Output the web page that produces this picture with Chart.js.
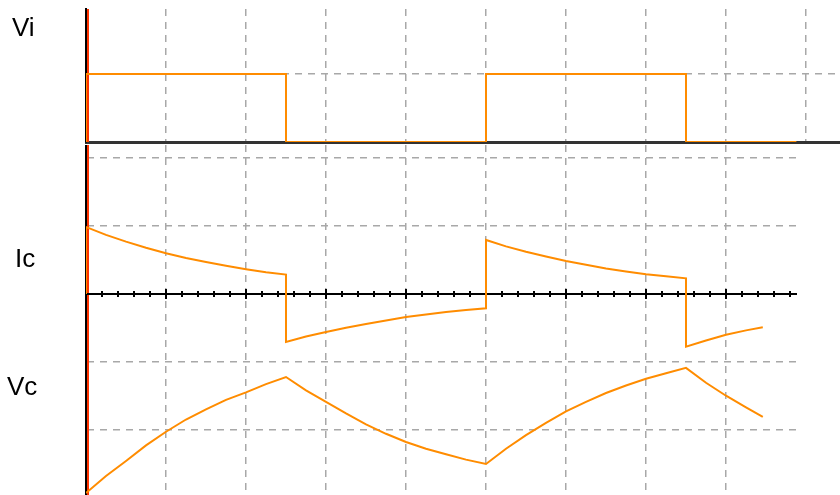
<!DOCTYPE html>
<html lang="en">
<head>
<meta charset="UTF-8">
<title>Vi / Ic / Vc</title>
<script src="https://cdn.jsdelivr.net/npm/chart.js"></script>
<style>
  body { margin: 0; background: #fff; font-family: 'Liberation Sans', Arial, sans-serif; }
  .wrap { position: relative; width: 840px; height: 495px; overflow: hidden; }
  .wrap canvas { position: absolute; left: 0; }
  #viChart { top: 0; }
  #icChart { top: 145px; }
  .lbl { position: absolute; font-size: 26px; line-height: 26px; color: #000; }
</style>
</head>
<body>
<div class="wrap">
  <canvas id="viChart" width="840" height="145"></canvas>
  <canvas id="icChart" width="840" height="350"></canvas>
  <div class="lbl" style="left:12px; top:14px">Vi</div>
  <div class="lbl" style="left:15px; top:245px">Ic</div>
  <div class="lbl" style="left:7px; top:373px">Vc</div>
</div>

<script>
// time in minor divisions (5 per major grid division)
const viTime  = [0, 0, 12.5, 12.5, 25, 25, 37.5, 37.5, 44.4];
const viLevel = [0, 1, 1, 0, 0, 1, 1, 0, 0];

const icTime = [
    0, 0, 1.25, 2.5, 3.75, 5, 6.25, 7.5, 8.75, 10, 11.25, 12.5,
    12.5, 13.75, 15, 16.25, 17.5, 18.75, 20, 21.25, 22.5, 23.75, 25,
    25, 26.25, 27.5, 28.75, 30, 31.25, 32.5, 33.75, 35, 36.25, 37.5,
    37.5, 38.75, 40, 41.25, 42.3
];
const icValue = [
    0, 0.985, 0.87, 0.77, 0.68, 0.6, 0.53, 0.47, 0.415, 0.365, 0.32, 0.285,
    -0.705, -0.625, -0.56, -0.495, -0.44, -0.39, -0.34, -0.3, -0.265, -0.235, -0.21,
    0.795, 0.7, 0.62, 0.55, 0.485, 0.43, 0.375, 0.33, 0.29, 0.26, 0.23,
    -0.775, -0.685, -0.6, -0.535, -0.49
];

const vcTime = [
    0, 1.25, 2.5, 3.75, 5, 6.25, 7.5, 8.75, 10, 11.25, 12.5,
    13.75, 15, 16.25, 17.5, 18.75, 20, 21.25, 22.5, 23.75, 25,
    26.25, 27.5, 28.75, 30, 31.25, 32.5, 33.75, 35, 36.25, 37.5,
    38.75, 40, 41.25, 42.3
];
const vcValue = [
    0.03, 0.28, 0.5, 0.73, 0.93, 1.11, 1.26, 1.4, 1.51, 1.63, 1.735,
    1.54, 1.37, 1.2, 1.04, 0.9, 0.78, 0.68, 0.6, 0.52, 0.456,
    0.68, 0.88, 1.06, 1.23, 1.37, 1.5, 1.61, 1.71, 1.79, 1.87,
    1.65, 1.46, 1.29, 1.15
];

const TRACE = '#ff8c00';
const GRID = '#a8a8a8';
const DASH = [7, 6];

function pts(xs, ys) {
    return xs.map((x, i) => ({ x: x, y: ys[i] }));
}

function trace(data, axis) {
    return {
        data: data,
        yAxisID: axis || 'y',
        borderColor: TRACE,
        borderWidth: 2,
        pointRadius: 0,
        fill: false,
        tension: 0
    };
}

// red marker line just right of the left axis
const leftMarker = {
    id: 'leftMarker',
    beforeDatasetsDraw(chart) {
        const { ctx, chartArea, scales } = chart;
        const px = scales.x.getPixelForValue(0) + 2;
        ctx.save();
        ctx.strokeStyle = '#ff3300';
        ctx.lineWidth = 2;
        ctx.beginPath();
        ctx.moveTo(px, chartArea.top);
        ctx.lineTo(px, chartArea.bottom);
        ctx.stroke();
        ctx.restore();
    }
};

// Ic zero axis with small ticks crossing it
const icAxis = {
    id: 'icAxis',
    beforeDatasetsDraw(chart) {
        const { ctx, chartArea, scales: { x, y } } = chart;
        const y0 = y.getPixelForValue(0);
        ctx.save();
        ctx.strokeStyle = '#000';
        ctx.lineWidth = 2;
        ctx.beginPath();
        ctx.moveTo(chartArea.left, y0);
        ctx.lineTo(chartArea.right, y0);
        ctx.stroke();
        for (let v = 1; v <= x.max; v++) {
            const px = Math.round(x.getPixelForValue(v));
            const h = v % 5 === 0 ? 5 : 3;
            ctx.beginPath();
            ctx.moveTo(px, y0 - h);
            ctx.lineTo(px, y0 + h);
            ctx.stroke();
        }
        ctx.restore();
    }
};

const common = {
    responsive: false,
    animation: false,
    events: [],
    plugins: { legend: { display: false }, tooltip: { enabled: false } }
};

new Chart(document.getElementById('viChart'), {
    type: 'line',
    data: { datasets: [trace(pts(viTime, viLevel))] },
    options: Object.assign({}, common, {
        layout: { padding: { left: 86, top: 9, right: 0, bottom: 3 } },
        scales: {
            x: {
                type: 'linear', min: 0, max: 47.125,
                ticks: { display: false, stepSize: 5, includeBounds: false },
                grid: { color: GRID, lineWidth: 1.5, drawTicks: false },
                border: { color: '#333', width: 3, dash: DASH }
            },
            y: {
                min: 0, max: 1.955,
                ticks: { display: false, stepSize: 1, includeBounds: false },
                grid: { color: GRID, lineWidth: 1.5, drawTicks: false },
                border: { color: '#000', width: 2, dash: DASH }
            }
        }
    }),
    plugins: [leftMarker]
});

new Chart(document.getElementById('icChart'), {
    type: 'line',
    data: {
        datasets: [
            trace(pts(icTime, icValue), 'y'),
            trace(pts(vcTime, vcValue), 'yv')
        ]
    },
    options: Object.assign({}, common, {
        layout: { padding: { left: 86, top: 0, right: 43, bottom: 0 } },
        scales: {
            x: {
                type: 'linear', min: 0, max: 44.4375,
                ticks: { display: false, stepSize: 5, includeBounds: false },
                grid: { color: GRID, lineWidth: 1.5, drawTicks: false },
                border: { display: false, dash: DASH }
            },
            y: {
                min: -2.956, max: 2.191,
                ticks: { display: false, stepSize: 1, includeBounds: false },
                grid: { color: GRID, lineWidth: 1.5, drawTicks: false },
                border: { color: '#000', width: 2, dash: DASH }
            },
            yv: {
                display: false,
                min: 0, max: 5.147
            }
        }
    }),
    plugins: [leftMarker, icAxis]
});
</script>
</body>
</html>
